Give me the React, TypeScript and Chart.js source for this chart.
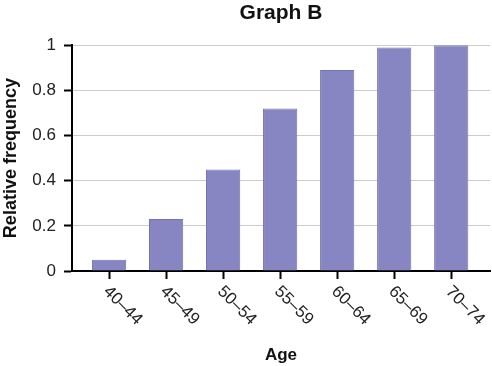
import React, { useEffect, useRef } from "react";
import { Chart, registerables } from "chart.js";

Chart.register(...registerables);
Chart.defaults.font.family = '"Liberation Sans", Arial, Helvetica, sans-serif';

const chartTitle = "Graph B";
const xAxisTitle = "Age";
const yAxisTitle = "Relative frequency";
const categories = ["40–44", "45–49", "50–54", "55–59", "60–64", "65–69", "70–74"];
const relativeFrequency = [0.05, 0.23, 0.45, 0.72, 0.89, 0.99, 1.0];
const yTicks = [0, 0.2, 0.4, 0.6, 0.8, 1];

const rotatedLabels = {
  id: "rotatedLabels",
  afterDraw(chart: any) {
    const xs = chart.scales.x;
    const ctx = chart.ctx;
    ctx.save();
    ctx.font = '17px "Liberation Sans", Arial, Helvetica, sans-serif';
    ctx.fillStyle = "#222222";
    ctx.textAlign = "left";
    ctx.textBaseline = "middle";
    categories.forEach((label, i) => {
      const x = xs.getPixelForValue(i);
      ctx.save();
      ctx.translate(x - 3, xs.top + 18);
      ctx.rotate(Math.PI / 4);
      ctx.fillText(label, 0, 0);
      ctx.restore();
    });
    ctx.restore();
  },
};

export default function App() {
  const ref = useRef<HTMLCanvasElement | null>(null);
  useEffect(() => {
    if (!ref.current) return;
    const chart = new Chart(ref.current, {
      type: "bar",
      data: {
        datasets: [
          {
            data: relativeFrequency.map((v, i) => ({ x: i, y: v })),
            backgroundColor: "#8886c2",
            borderColor: "#7573ae",
            borderWidth: 1,
            categoryPercentage: 1,
            barPercentage: 0.6,
          },
        ],
      },
      options: {
        responsive: false,
        animation: false,
        events: [],
        layout: { padding: { left: 0, right: 2, top: 0, bottom: 0 } },
        plugins: {
          legend: { display: false },
          tooltip: { enabled: false },
          title: {
            display: true,
            text: chartTitle,
            fullSize: false,
            color: "#111111",
            font: { size: 21, weight: "bold" },
            padding: { top: 1, bottom: 19 },
          },
        },
        scales: {
          x: {
            type: "linear",
            min: -0.65,
            max: 6.68,
            offset: false,
            afterBuildTicks: (s: any) => {
              s.ticks = categories.map((_, i) => ({ value: i }));
            },
            afterFit: (s: any) => {
              s.height = 95;
            },
            ticks: { display: false },
            grid: {
              display: true,
              offset: false,
              drawOnChartArea: false,
              drawTicks: true,
              tickLength: 8,
              tickColor: "#000000",
              tickWidth: 2,
              color: "#000000",
            },
            border: { display: true, color: "#000000", width: 2 },
            title: {
              display: true,
              text: xAxisTitle,
              color: "#111111",
              font: { size: 17, weight: "bold" },
              padding: { top: 0, bottom: 0 },
            },
          },
          y: {
            type: "linear",
            min: 0,
            max: 1,
            afterBuildTicks: (s: any) => {
              s.ticks = yTicks.map((v) => ({ value: v }));
            },
            afterFit: (s: any) => {
              s.width = 72;
            },
            ticks: {
              color: "#222222",
              font: { size: 17 },
              padding: 8,
              callback: (v: any) => String(Number(Number(v).toFixed(1))),
            },
            grid: {
              color: "#cccccc",
              lineWidth: 1,
              drawTicks: true,
              tickLength: 8,
              tickColor: "#000000",
              tickWidth: 2,
            },
            border: { display: true, color: "#000000", width: 2 },
            title: {
              display: true,
              text: yAxisTitle,
              color: "#111111",
              font: { size: 18, weight: "bold" },
              padding: { top: 0, bottom: 0 },
            },
          },
        },
      },
      plugins: [rotatedLabels],
    } as any);
    return () => chart.destroy();
  }, []);
  return (
    <div style={{ position: "absolute", left: 0, top: 0, width: 492, height: 366 }}>
      <canvas ref={ref} width={492} height={366} style={{ display: "block" }} />
    </div>
  );
}
